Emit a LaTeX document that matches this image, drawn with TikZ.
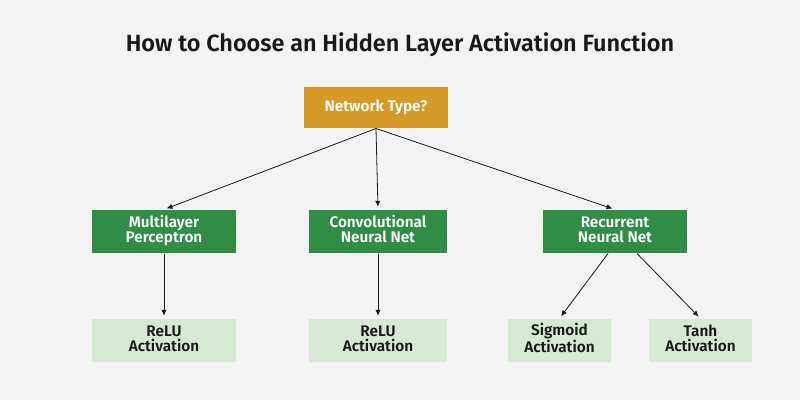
\documentclass[tikz,border=0pt]{standalone}
\usepackage{fontspec}
\setmainfont{Fira Sans}[BoldFont={Fira Sans SemiBold}]
\definecolor{bgcol}{RGB}{243,243,243}
\definecolor{qgold}{RGB}{214,153,40}
\definecolor{qgreen}{RGB}{47,141,70}
\definecolor{qlight}{RGB}{214,233,210}
\definecolor{qtext}{RGB}{25,25,25}

\tikzset{every picture/.style={line width=0.75pt}}
\tikzset{
  qbox/.style={inner sep=0pt, align=center, font=\bfseries\fontsize{11.5}{11.2}\selectfont,
    execute at end node=\strut},
  askbox/.style={qbox, fill=qgold, text=white, minimum width=108pt, minimum height=30.75pt},
  netbox/.style={qbox, fill=qgreen, text=white, minimum height=32.25pt},
  actbox/.style={qbox, fill=qlight, text=qtext, minimum height=32.25pt},
  arr/.style={-{Latex[length=4.5pt,width=4pt]}, line width=0.6pt, draw=qtext, shorten >=2pt}
}
\usetikzlibrary{arrows.meta}

\begin{document}
\begin{tikzpicture}[x=0.75pt,y=0.75pt,yscale=-1,xscale=1]
        \fill[bgcol] (0,0) rectangle (800,400);
        \useasboundingbox (0,0) rectangle (800,400);

        \draw (400,45) node [font=\bfseries\fontsize{17.6}{17.6}\selectfont, text=qtext] (title) {How to Choose an Hidden Layer Activation Function};

        % question box
        \draw (376,107.5) node [askbox] (net) {Network Type?};

        % network kinds
        \draw (164,231.5) node [netbox, minimum width=108pt] (mlp) {Multilayer\\Perceptron};
        \draw (378,231.5) node [netbox, minimum width=103.5pt] (cnn) {Convolutional\\Neural Net};
        \draw (615,231.5) node [netbox, minimum width=108pt] (rnn) {Recurrent\\Neural Net};

        % activations
        \draw (164,340.5) node [actbox, minimum width=108pt] (relua) {ReLU\\Activation};
        \draw (378,340.5) node [actbox, minimum width=103.5pt] (relub) {ReLU\\Activation};
        \draw (559.5,340.5) node [actbox, minimum width=77.25pt] (sig) {Sigmoid\\Activation};
        \draw (700.5,340.5) node [actbox, minimum width=77.25pt] (tanh) {Tanh\\Activation};

        \draw[arr] (net.south) -- (mlp.north);
        \draw[arr] (net.south) -- (cnn.north);
        \draw[arr] (net.south) -- (rnn.north);
        \draw[arr] (mlp.south) -- (relua.north);
        \draw[arr] (cnn.south) -- (relub.north);
        \draw[arr] (rnn.south) ++(-7,0) -- (sig.north);
        \draw[arr] (rnn.south) ++(22,0) -- (tanh.north);
    \end{tikzpicture}
\end{document}
